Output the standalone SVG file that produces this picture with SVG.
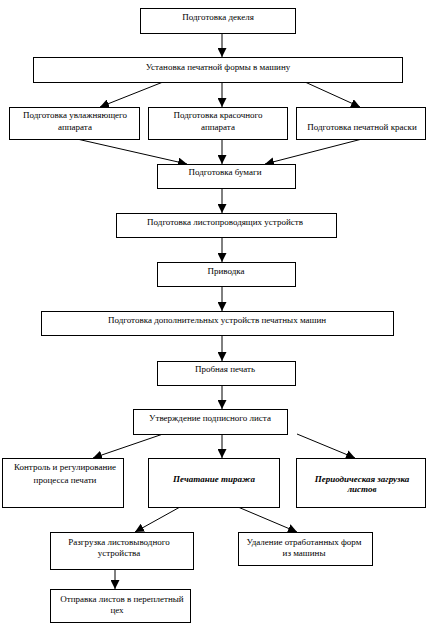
<svg xmlns="http://www.w3.org/2000/svg" width="427" height="630" viewBox="0 0 427 630">
<defs>
<marker id="ah" markerUnits="userSpaceOnUse" markerWidth="9" markerHeight="9" viewBox="0 0 10 10" refX="10" refY="5" orient="auto">
<path d="M0,0 L10,5 L0,10 z" fill="#000"/>
</marker>
<style>
rect{fill:#fff;stroke:#000;stroke-width:1}
text{font-family:"Liberation Serif","Times New Roman",serif;font-size:9px;fill:#000;text-anchor:middle}
.bi{font-weight:bold;font-style:italic}
#connectors line{stroke:#000;stroke-width:1;marker-end:url(#ah)}
</style>
</defs>
<rect x="0" y="0" width="427" height="630" style="fill:#fff;stroke:none"/>
<g id="connectors">
<line x1="222" y1="33" x2="222" y2="57"/>
<line x1="163" y1="82" x2="100" y2="107"/>
<line x1="222" y1="82" x2="222" y2="107"/>
<line x1="305" y1="82" x2="360" y2="107"/>
<line x1="77" y1="139" x2="187" y2="164"/>
<line x1="222" y1="139" x2="222" y2="164"/>
<line x1="362" y1="139" x2="265" y2="164"/>
<line x1="222" y1="188" x2="222" y2="213"/>
<line x1="222" y1="237" x2="222" y2="262"/>
<line x1="222" y1="286" x2="222" y2="311"/>
<line x1="222" y1="335" x2="222" y2="361"/>
<line x1="222" y1="385" x2="222" y2="409"/>
<line x1="163" y1="434" x2="93" y2="458"/>
<line x1="222" y1="434" x2="222" y2="458"/>
<line x1="297" y1="434" x2="355" y2="458"/>
<line x1="180" y1="507" x2="135" y2="532"/>
<line x1="238" y1="507" x2="297" y2="532"/>
<line x1="115" y1="569" x2="115" y2="589"/>
</g>
<g id="n1"><rect x="140.5" y="8.5" width="155" height="25"/><text x="218" y="20">Подготовка декеля</text></g>
<g id="n2"><rect x="33.5" y="57.5" width="369" height="25"/><text x="218" y="70">Установка печатной формы в машину</text></g>
<g id="n3"><rect x="9.5" y="107.5" width="130" height="32"/><text x="75" y="118">Подготовка увлажняющего</text><text x="75" y="130">аппарата</text></g>
<g id="n4"><rect x="148.5" y="107.5" width="139" height="32"/><text x="218" y="118">Подготовка красочного</text><text x="218" y="130">аппарата</text></g>
<g id="n5"><rect x="296.5" y="107.5" width="129" height="32"/><text x="362" y="130">Подготовка печатной краски</text></g>
<g id="n6"><rect x="157.5" y="164.5" width="138" height="24"/><text x="225" y="175">Подготовка бумаги</text></g>
<g id="n7"><rect x="116.5" y="213.5" width="220" height="24"/><text x="225" y="225">Подготовка листопроводящих устройств</text></g>
<g id="n8"><rect x="157.5" y="262.5" width="138" height="24"/><text x="226" y="274">Приводка</text></g>
<g id="n9"><rect x="41.5" y="311.5" width="352" height="24"/><text x="217" y="323">Подготовка дополнительных устройств печатных машин</text></g>
<g id="n10"><rect x="157.5" y="361.5" width="138" height="24"/><text x="225" y="372">Пробная печать</text></g>
<g id="n11"><rect x="133.5" y="409.5" width="154" height="25"/><text x="210" y="421">Утверждение подписного листа</text></g>
<g id="n12"><rect x="2.5" y="458.5" width="121" height="49"/><text x="65" y="470">Контроль и регулирование</text><text x="65" y="483">процесса печати</text></g>
<g id="n13"><rect x="148.5" y="458.5" width="131" height="49"/><text class="bi" x="214" y="482">Печатание тиража</text></g>
<g id="n14"><rect x="296.5" y="458.5" width="129" height="49"/><text class="bi" x="362" y="482">Периодическая загрузка</text><text class="bi" x="362" y="492">листов</text></g>
<g id="n15"><rect x="50.5" y="532.5" width="143" height="37"/><text x="119" y="545">Разгрузка листовыводного</text><text x="119" y="556">устройства</text></g>
<g id="n16"><rect x="238.5" y="532.5" width="134" height="33"/><text x="304" y="545">Удаление отработанных форм</text><text x="304" y="556">из машины</text></g>
<g id="n17"><rect x="50.5" y="589.5" width="140" height="33"/><text x="122" y="602">Отправка листов в переплетный</text><text x="117" y="613">цех</text></g>
</svg>
